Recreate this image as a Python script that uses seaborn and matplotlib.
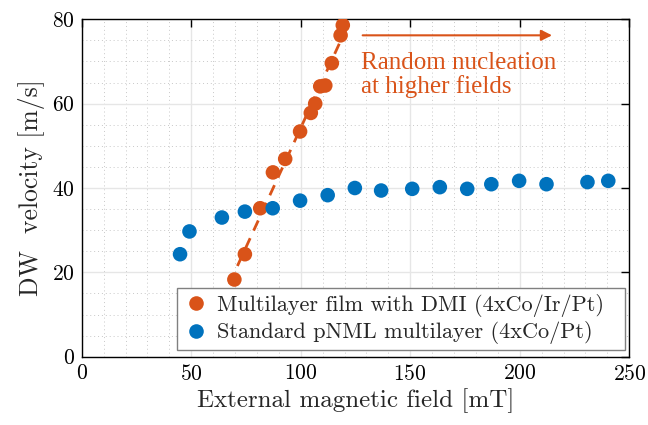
import numpy as np
import pandas as pd
import matplotlib
matplotlib.use("Agg")
import matplotlib.pyplot as plt
import seaborn as sns
from matplotlib.ticker import MultipleLocator
from matplotlib.lines import Line2D
from matplotlib.patches import Rectangle

# ---- data ----
dmi_field = [69.7, 74.5, 81.5, 87.3, 92.9, 99.7, 104.6, 106.6, 108.9, 111.2, 114.2, 118.2, 119.2]
dmi_velocity = [18.3, 24.3, 35.2, 43.7, 46.9, 53.4, 57.8, 60.0, 64.1, 64.3, 69.6, 76.2, 78.6]

std_field = [44.9, 49.2, 64.0, 74.5, 87.2, 99.7, 112.3, 124.7, 136.7, 150.9, 163.5,
             176.0, 187.0, 199.7, 212.2, 230.9, 240.4]
std_velocity = [24.3, 29.7, 33.0, 34.4, 35.2, 37.0, 38.3, 40.0, 39.4, 39.8, 40.2,
                39.8, 40.9, 41.7, 40.9, 41.4, 41.7]

fit_range = [60.0, 125.0]
label_dmi = "Multilayer film with DMI (4xCo/Ir/Pt)"
label_std = "Standard pNML multilayer (4xCo/Pt)"
annot_text = "Random nucleation\nat higher fields"

x_ticks = [0, 50, 100, 150, 200, 250]
y_ticks = [0, 20, 40, 60, 80]

orange = "#D95319"
blue = "#0072BD"

sns.set_theme(style="white")
plt.rcParams["font.family"] = ["cmr10"]
plt.rcParams["axes.formatter.use_mathtext"] = True
plt.rcParams["mathtext.fontset"] = "cm"

W, H = 648, 425
L, R, T, B = 81.7, 629.3, 19.3, 356.7
fig = plt.figure(figsize=(W / 100, H / 100), dpi=100)
ax = fig.add_axes([L / W, 1 - B / H, (R - L) / W, (B - T) / H])

df = pd.concat([
    pd.DataFrame({"field": dmi_field, "velocity": dmi_velocity, "sample": label_dmi}),
    pd.DataFrame({"field": std_field, "velocity": std_velocity, "sample": label_std}),
])

# linear fit of the DMI data (dashed line)
coef = np.polyfit(dmi_field, dmi_velocity, 1)
fx = np.array(fit_range)
fit_df = pd.DataFrame({"field": fx, "velocity": np.polyval(coef, fx)})
sns.lineplot(data=fit_df, x="field", y="velocity", ax=ax, color=orange,
             linestyle=(0, (4, 3)), linewidth=2, zorder=2)

sns.scatterplot(data=df, x="field", y="velocity", hue="sample",
                palette={label_dmi: orange, label_std: blue},
                s=110, edgecolor="none", linewidth=0, ax=ax, zorder=3, legend=False)

ax.set_xlim(x_ticks[0], x_ticks[-1])
ax.set_ylim(y_ticks[0], y_ticks[-1])
ax.set_xticks(x_ticks)
ax.set_yticks(y_ticks)
ax.xaxis.set_minor_locator(MultipleLocator(10))
ax.yaxis.set_minor_locator(MultipleLocator(5))
ax.grid(True, which="major", color="#e6e6e6", linewidth=1.0, linestyle="-")
ax.grid(True, which="minor", color="#c8c8c8", linewidth=0.7, linestyle=(0, (1, 3)))
ax.set_axisbelow(True)

ax.tick_params(which="major", direction="in", length=6, width=1, top=True, right=True,
               labelsize=15.5, colors="black", pad=5)
ax.tick_params(which="minor", length=0, top=True, right=True)
for s in ax.spines.values():
    s.set_color("black")
    s.set_linewidth(1.0)

ax.set_xlabel("External magnetic field [mT]", fontsize=18, labelpad=3)
ax.set_ylabel("DW  velocity [m/s]", fontsize=18.5, labelpad=5)

# annotation
ax.annotate("", xy=(216, 76.2), xytext=(127, 76.2),
            arrowprops=dict(arrowstyle="-|>", color=orange, lw=1.5,
                            mutation_scale=16))
ax.text(127.3, 66.8, annot_text, color=orange, fontsize=18,
        family="Liberation Serif", ha="left", va="center", linespacing=1.05)

handles = [
    Line2D([], [], marker="o", linestyle="none", color=orange, markersize=10.5,
           markeredgewidth=0),
    Line2D([], [], marker="o", linestyle="none", color=blue, markersize=10.5,
           markeredgewidth=0),
]
extra_px = 15  # MATLAB-style extra right padding inside the legend box
leg_right = (624.7 - extra_px - L) / (R - L)
leg_bottom = (B - 350.0) / (B - T)
leg = ax.legend(handles, [label_dmi, label_std], loc="lower right",
                bbox_to_anchor=(leg_right, leg_bottom), borderaxespad=0,
                fontsize=16, frameon=True, fancybox=False, framealpha=1,
                edgecolor="#808080", handletextpad=0.35, borderpad=0.25,
                labelspacing=0.22, handlelength=1.2)
leg.set_zorder(5)

fig.canvas.draw()
bb = leg.get_window_extent()
inv = fig.transFigure.inverted()
(x0, y0) = inv.transform((bb.x0, bb.y0))
(x1, y1) = inv.transform((bb.x1 + extra_px, bb.y1))
leg.get_frame().set_visible(False)
bg = Rectangle((x0, y0), x1 - x0, y1 - y0, transform=fig.transFigure,
               facecolor="white", edgecolor="#808080", linewidth=1.0, zorder=4.5,
               clip_on=False)
ax.add_artist(bg)

fig.savefig("out.png", dpi=100)
